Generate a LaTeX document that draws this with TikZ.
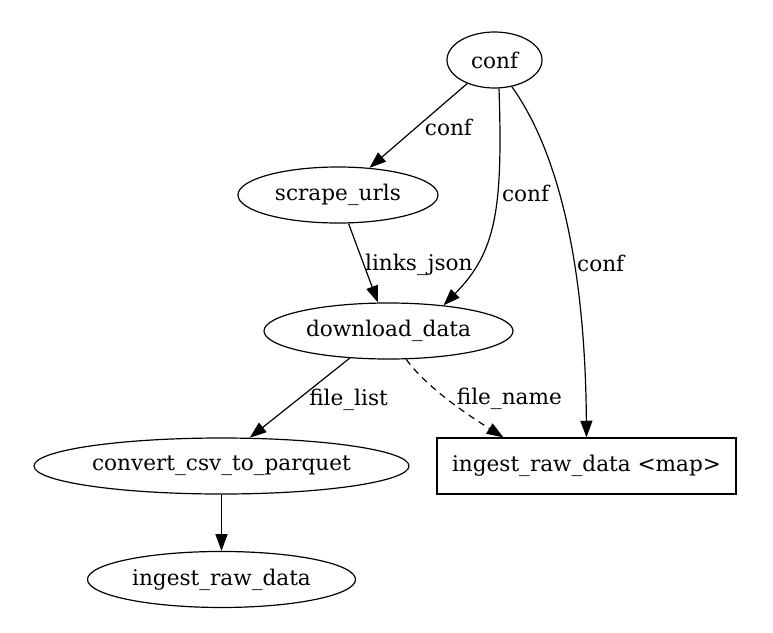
\documentclass[tikz,border=0pt]{standalone}
\usepackage{fontspec}
\setmainfont{DejaVu Serif}
\usetikzlibrary{arrows.meta,shapes.geometric,positioning}

\begin{document}
\begin{tikzpicture}[x=0.75pt,y=-0.75pt,on grid,line width=0.9pt,
  >={Triangle[length=12.5pt,width=9pt]},
  task/.style={ellipse,draw,inner sep=0pt,minimum height=42pt,font=\fontsize{16.2}{19}\selectfont},
  mapbox/.style={rectangle,draw,inner sep=0pt,minimum height=42pt,font=\fontsize{16.2}{19}\selectfont},
  lbl/.style={inner sep=0pt,font=\fontsize{16.2}{19}\selectfont},
  dep/.style={dash pattern=on 5pt off 4pt}]
\useasboundingbox (0,0) rectangle (773,632);
\node[task,minimum width=71.25pt] (conf) at (494.5,60) {conf};
\node[task,minimum width=150pt] (scrape_urls) [below left=101.25pt and 117.4pt of conf] {scrape\_urls};
\node[task,minimum width=186.75pt] (download_data) [below right=102pt and 37.9pt of scrape_urls] {download\_data};
\node[task,minimum width=281.25pt] (convert) [below left=101.25pt and 125.25pt of download_data] {convert\_csv\_to\_parquet};
\node[task,minimum width=201pt] (ingest) [below=85.1pt of convert] {ingest\_raw\_data};
\node[mapbox,minimum width=224.25pt] (ingest_map) [right=273.75pt of convert] {ingest\_raw\_data <map>};

\draw[->] (conf) -- node[lbl,pos=0.52,right=6pt] {conf} (scrape_urls);
\draw[->] (conf.-81) .. controls (503,210) and (496,252) .. node[lbl,pos=0.36,right=3pt] {conf} (download_data.25);
\draw[->] (conf.-57) .. controls (550,140) and (585,240) .. node[lbl,pos=0.65,right=2pt] {conf} (ingest_map.north);
\draw[->] (scrape_urls) -- node[lbl,pos=0.5,right=1pt,yshift=-1.5pt] {links\_json} (download_data);
\draw[->] (download_data.-145) -- node[lbl,pos=0.49,right=6pt,yshift=-2pt] {file\_list} (convert.45);
\draw[->,dep] (download_data.-58) .. controls (425,385) and (460,410) .. node[lbl,pos=0.5,right=8pt,yshift=-1pt] {file\_name} (ingest_map.161);
\draw[->] (convert) -- (ingest);
\end{tikzpicture}
\end{document}
